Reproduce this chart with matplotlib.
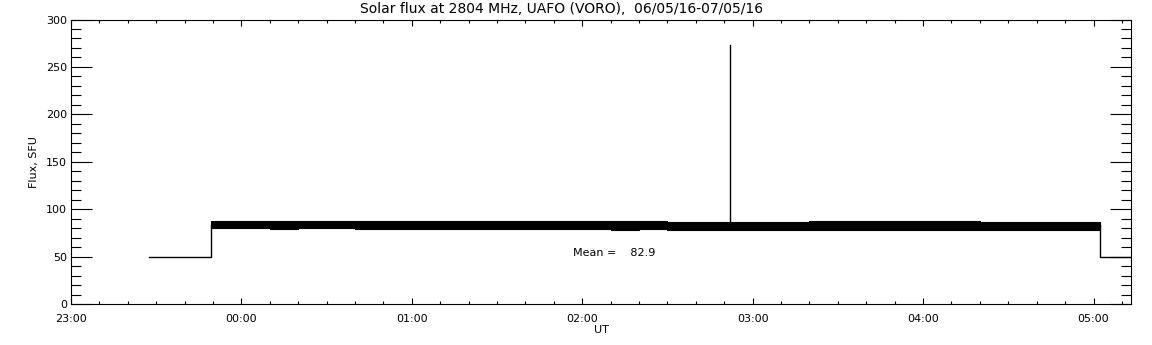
import numpy as np
import matplotlib
matplotlib.use('Agg')
import matplotlib.pyplot as plt
from matplotlib.ticker import MultipleLocator, FuncFormatter

# times are minutes after 23:00 UT (06/05/16)
lead_t = [27.5, 49.3, 49.3]
lead_flux = [50, 50, 83]

band_t = [49.3, 60, 70, 80, 90, 100, 110, 120, 130, 140, 150, 160, 170, 180,
          190, 200, 210, 220, 230, 240, 250, 260, 270, 280, 290, 300, 310,
          320, 330, 340, 350, 360, 362.2]
band_hi = [87.4, 87.2, 87.0, 87.3, 87.2, 87.0, 87.2, 87.3, 87.0, 87.2, 87.1,
           87.2, 87.0, 87.3, 87.1, 87.2, 86.8, 86.6, 86.5, 86.7, 86.5, 87.0,
           87.2, 87.1, 87.3, 87.0, 87.2, 86.6, 86.5, 86.7, 86.5, 86.6, 86.6]
band_lo = [79.8, 79.8, 79.6, 79.9, 79.7, 79.5, 79.4, 79.3, 79.5, 79.2, 79.0,
           78.8, 78.6, 78.8, 78.5, 78.6, 78.2, 77.9, 77.8, 78.0, 77.8, 78.0,
           78.2, 78.0, 78.1, 78.0, 78.2, 78.0, 78.1, 77.9, 78.0, 78.1, 78.1]

spike_t = [231.9, 231.9]
spike_flux = [84, 273]

tail_t = [362.2, 362.2, 390]
tail_flux = [83, 50, 50]

mean_flux = 82.9

fig = plt.figure(figsize=(11.52, 3.45), dpi=100)
ax = fig.add_axes([71 / 1152, 1 - 304 / 345, (1131 - 71) / 1152, (304 - 19.5) / 345])

h = lambda m: np.array(m) / 60.0

ax.plot(h(lead_t), lead_flux, color='k', lw=1)
ax.fill_between(h(band_t), band_lo, band_hi, step='post', color='k', lw=0.8)
ax.plot(h(spike_t), spike_flux, color='k', lw=1)
ax.plot(h(tail_t), tail_flux, color='k', lw=1)

ax.text(2.944, 53.8, 'Mean =    %.1f' % mean_flux, fontsize=8, va='center', ha='left')

ax.set_xlim(0, 6.22)
ax.set_ylim(0, 300)
ax.xaxis.set_major_locator(MultipleLocator(1))
ax.xaxis.set_minor_locator(MultipleLocator(1 / 6))
ax.xaxis.set_major_formatter(FuncFormatter(lambda v, p: '%02d:00' % ((23 + int(round(v))) % 24)))
ax.yaxis.set_major_locator(MultipleLocator(50))
ax.yaxis.set_minor_locator(MultipleLocator(10))

ax.tick_params(axis='both', which='both', direction='in', top=True, right=True,
               labelsize=8, width=0.8, color='k')
ax.tick_params(axis='y', which='major', length=15, pad=3)
ax.tick_params(axis='y', which='minor', length=7.5)
ax.tick_params(axis='x', which='major', length=4, pad=7)
ax.tick_params(axis='x', which='minor', length=2)
for s in ax.spines.values():
    s.set_linewidth(0.8)

ax.set_xlabel('UT', fontsize=8, labelpad=1)
ax.set_ylabel('Flux, SFU', fontsize=8, labelpad=5)
fig.text(562 / 1152, 1 - 9 / 345, 'Solar flux at 2804 MHz, UAFO (VORO),  06/05/16-07/05/16',
         fontsize=10, ha='center', va='center')

fig.savefig('out.png', dpi=100)
